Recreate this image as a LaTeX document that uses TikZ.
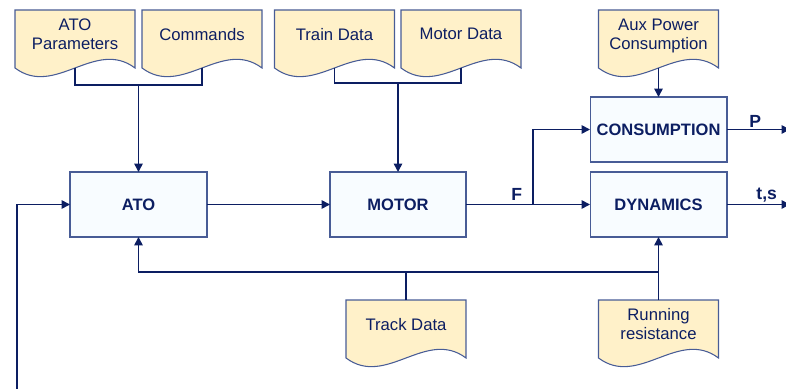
\documentclass[tikz,border=0pt]{standalone}
\usepackage{fontspec}
\setmainfont{Liberation Sans}
\usetikzlibrary{arrows.meta,calc,backgrounds}
\definecolor{navy}{RGB}{12,30,98}
\definecolor{edge}{RGB}{72,92,150}
\definecolor{paper}{RGB}{255,241,201}
\definecolor{boxfill}{RGB}{248,252,255}
\tikzset{
  block/.style={draw=edge,fill=boxfill,line width=0.6pt,minimum width=2.74cm,
    minimum height=1.3cm,inner xsep=1pt,outer sep=0pt,text=navy,
    font=\fontsize{9.4}{10.8}\selectfont\bfseries},
  doc/.style={minimum width=2.4cm,minimum height=1.16cm,outer sep=0pt,align=center,
    text=navy,text depth=5.7pt},
  docline/.style={draw=edge,fill=paper,line width=0.6pt},
  line/.style={draw=navy,line width=0.9pt},
  arr/.style={line,-{Triangle[length=4.8pt,width=4.8pt]}},
  lbl/.style={text=navy,font=\bfseries,inner sep=1pt}
}
% document outline behind a doc node
\newcommand{\docshape}[1]{%
  \begin{pgfonlayer}{background}
  \path[docline] (#1.south west) -- (#1.north west) -- (#1.north east)
    -- (#1.south east) .. controls +(-40,30) and +(40,-30) .. (#1.south west)
    -- cycle;
  \end{pgfonlayer}}

\begin{document}
\begin{tikzpicture}[x=0.02cm,y=0.02cm,font=\fontsize{9.5}{10.8}\selectfont]
  \useasboundingbox (0,0) rectangle (786,388);
  % blocks
  \node[block] (ato) at (138.5,183.5) {ATO};
  \node[block,minimum width=2.72cm] (motor) at (398,183.5) {MOTOR};
  \node[block] (cons) at (658.5,258.5) {CONSUMPTION};
  \node[block] (dyn) at (658.5,183.5) {DYNAMICS};
  % data sheets
  \node[doc] (par) at (75,349) {ATO\\Parameters}; \docshape{par}
  \node[doc] (cmd) at (202,349) {Commands}; \docshape{cmd}
  \node[doc] (train) at (334.5,349) {Train Data}; \docshape{train}
  \node[doc] (motdat) at (461,349) {Motor Data}; \docshape{motdat}
  \node[doc] (aux) at (658.5,349) {Aux Power\\Consumption}; \docshape{aux}
  \node[doc] (track) at (406,59) {Track Data}; \docshape{track}
  \node[doc] (run) at (658.5,59) {Running\\resistance}; \docshape{run}
  % inputs from above
  \coordinate (pj) at ($(par.south)+(0,-17)$);
  \draw[line] (par.south) -- (pj) -| (cmd.south);
  \draw[arr] (pj -| ato.north) -- (ato.north);
  \coordinate (tj) at ($(train.south)+(0,-15)$);
  \draw[line] (train.south) -- (tj) -| (motdat.south);
  \draw[arr] (tj -| motor.north) -- (motor.north);
  \draw[arr] (aux.south) -- (cons.north);
  % forward chain
  \draw[arr] (ato.east) -- (motor.west);
  \coordinate (fj) at ($(motor.east)!0.54!(dyn.west)$);
  \draw[arr] (motor.east) -- (dyn.west);
  \node[lbl,anchor=south east,xshift=-5pt,yshift=1pt] (f) at (fj) {F};
  \draw[arr] (fj) |- (cons.west);
  % outputs
  \coordinate (pout) at ($(cons.east)+(63,0)$);
  \coordinate (tsout) at ($(dyn.east)+(63,0)$);
  \draw[arr] (cons.east) -- (pout);
  \draw[arr] (dyn.east) -- (tsout);
  \node[lbl,above] (p) at ($(cons.east)!0.45!(pout)$) {P};
  \node[lbl,above] (ts) at ($(dyn.east)!0.63!(tsout)$) {t,s};
  % track data and resistance from below
  \coordinate (bus) at ($(track.north)+(0,28)$);
  \draw[arr] (track.north) -- (bus) -| (ato.south);
  \draw[line] (bus) -- (bus -| run.north);
  \draw[arr] (run.north) -- (dyn.south);
  % feedback
  \coordinate (fb) at (17,-2);
  \draw[arr] (fb) |- (ato.west);
\end{tikzpicture}
\end{document}
